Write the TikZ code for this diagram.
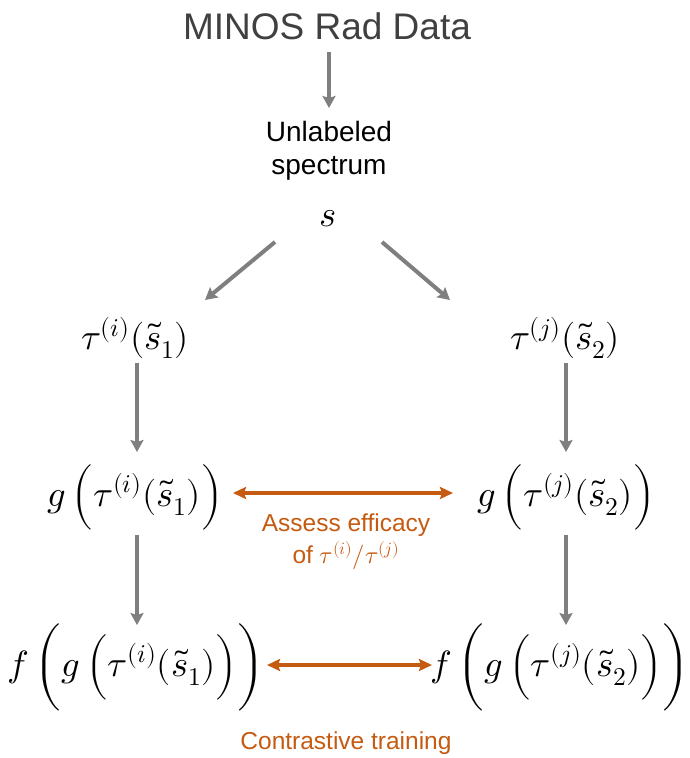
\documentclass[tikz,border=0pt]{standalone}
\usepackage{fontspec}
\usepackage{unicode-math}
\newfontfamily\arial{Liberation Sans}
\usetikzlibrary{arrows.meta}
\definecolor{titlegray}{HTML}{404040}
\definecolor{arrowgray}{HTML}{7F7F7F}
\definecolor{accent}{HTML}{C55A11}
\tikzset{
  sanstext/.style={font=\arial\fontsize{28}{33}\selectfont, align=center, inner sep=0pt},
  mathtext/.style={font=\fontsize{36.5}{40}\selectfont, inner sep=0pt},
  notetext/.style={font=\arial\fontsize{24.5}{32}\selectfont, text=accent, align=center, inner sep=0pt},
  grayarrow/.style={draw=arrowgray, line width=4pt, -{Stealth[length=12pt,width=13pt,inset=2pt]}},
  orangearrow/.style={draw=accent, line width=3.5pt,
    {Stealth[length=13pt,width=12pt,inset=2pt]}-{Stealth[length=13pt,width=12pt,inset=2pt]}}
}
\begin{document}
\begin{tikzpicture}[x=1pt,y=-1pt]
  \useasboundingbox (0,0) rectangle (690,758);
  % top of the chain
  \node[sanstext, text=titlegray, font=\arial\fontsize{37}{44}\selectfont] (minos) at (327,26) {MINOS Rad Data};
  \node[sanstext] (unlab) at (329,151) {Unlabeled\\spectrum};
  \node[mathtext] (s) at (328,219) {$s$};
  % two augmented views
  \node[mathtext] (taul) at (135,338) {$\tau^{(i)}(\tilde{s}_1)$};
  \node[mathtext] (taur) at (565,338) {$\tau^{(j)}(\tilde{s}_2)$};
  \node[mathtext] (gl) at (135,497) {$g\,\Big(\tau^{(i)}(\tilde{s}_1)\Big)$};
  \node[mathtext] (gr) at (566,497) {$g\,\Big(\tau^{(j)}(\tilde{s}_2)\Big)$};
  \node[mathtext] (fl) at (136,667) {$f\,\bigg(g\,\Big(\tau^{(i)}(\tilde{s}_1)\Big)\bigg)$};
  \node[mathtext] (fr) at (560,667) {$f\,\bigg(g\,\Big(\tau^{(j)}(\tilde{s}_2)\Big)\bigg)$};
  \node[notetext] (assess) at (346,542) {Assess efficacy\\of $\tau^{(i)}/\tau^{(j)}$};
  \node[notetext] (contrast) at (346,743) {Contrastive training};
  % arrows
  \draw[grayarrow] ([shift={(2,26)}]minos.center) -- ([shift={(0,-43)}]unlab.center);
  \draw[grayarrow] ([shift={(-53,23)}]s.center) -- ([shift={(70,-38)}]taul.center);
  \draw[grayarrow] ([shift={(54,23)}]s.center) -- ([shift={(-115,-38)}]taur.center);
  \draw[grayarrow] ([shift={(2,25)}]taul.center) -- ([shift={(2,-45)}]gl.center);
  \draw[grayarrow] ([shift={(1,25)}]taur.center) -- ([shift={(0,-45)}]gr.center);
  \draw[grayarrow] ([shift={(2,38)}]gl.center) -- ([shift={(1,-42)}]fl.center);
  \draw[grayarrow] ([shift={(0,38)}]gr.center) -- ([shift={(6,-42)}]fr.center);
  \draw[orangearrow] ([shift={(98,-4)}]gl.center) -- ([shift={(-113,-4)}]gr.center);
  \draw[orangearrow] ([shift={(131,-2)}]fl.center) -- ([shift={(-128,-2)}]fr.center);
\end{tikzpicture}
\end{document}
